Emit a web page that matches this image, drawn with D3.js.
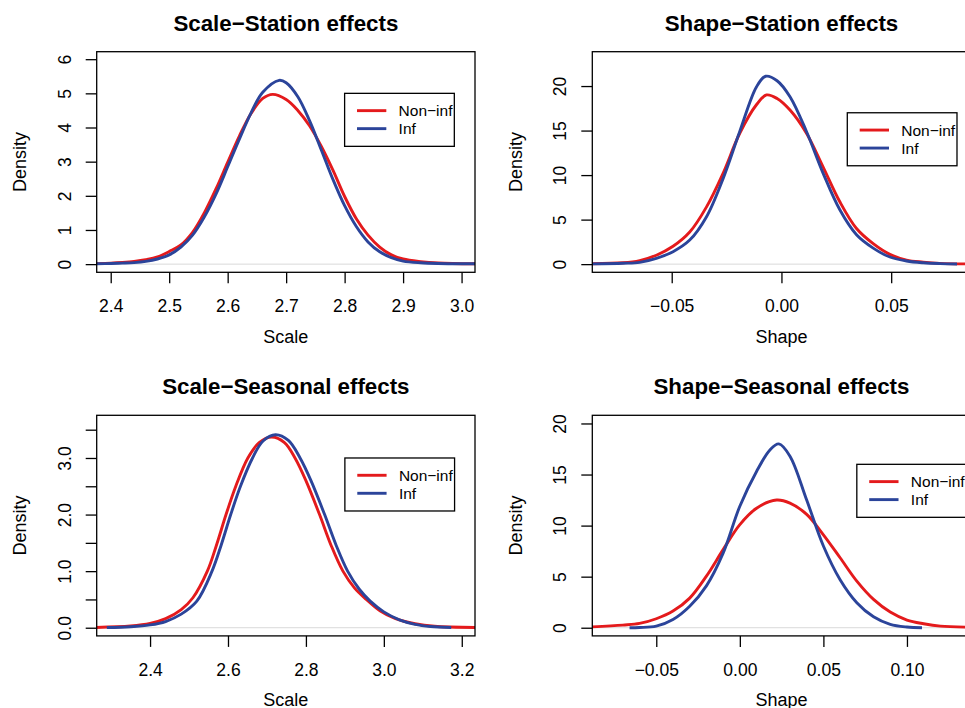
<!DOCTYPE html>
<html>
<head>
<meta charset="utf-8">
<script src="https://cdn.jsdelivr.net/npm/d3@7"></script>
<style>
  body { margin: 0; background: #fff; }
  svg { display: block; font-family: "Liberation Sans", Arial, sans-serif; }
</style>
</head>
<body>
<div class="plot-container"></div>
<script>
// *************************************
// DATA
// *************************************

const titles = ["Scale\u2212Station effects", "Shape\u2212Station effects",
                "Scale\u2212Seasonal effects", "Shape\u2212Seasonal effects"];
const xLabels = ["Scale", "Shape", "Scale", "Shape"];
const seriesNames = ["Non\u2212inf", "Inf"];

// Scale - Station
const scaleStationNonInfX = [2.376, 2.40, 2.42, 2.44, 2.46, 2.48, 2.50, 2.52, 2.54, 2.56, 2.58, 2.60, 2.62, 2.64, 2.66, 2.677, 2.70, 2.72, 2.74, 2.76, 2.78, 2.80, 2.82, 2.84, 2.86, 2.88, 2.90, 2.93, 2.96, 3.023];
const scaleStationNonInfY = [0.015, 0.03, 0.05, 0.08, 0.13, 0.21, 0.37, 0.56, 0.93, 1.5, 2.2, 2.98, 3.75, 4.41, 4.85, 4.97, 4.82, 4.5, 4.05, 3.45, 2.75, 1.98, 1.33, 0.85, 0.5, 0.27, 0.15, 0.075, 0.035, 0.01];
const scaleStationInfX = [2.376, 2.40, 2.42, 2.44, 2.46, 2.48, 2.50, 2.52, 2.54, 2.56, 2.58, 2.60, 2.62, 2.64, 2.66, 2.688, 2.70, 2.72, 2.74, 2.76, 2.78, 2.80, 2.82, 2.84, 2.86, 2.88, 2.90, 2.93, 2.96, 3.023];
const scaleStationInfY = [0.01, 0.02, 0.03, 0.045, 0.08, 0.15, 0.27, 0.5, 0.85, 1.38, 2.05, 2.85, 3.66, 4.43, 5.03, 5.38, 5.31, 4.9, 4.2, 3.35, 2.48, 1.71, 1.1, 0.65, 0.36, 0.19, 0.09, 0.04, 0.02, 0.01];

// Shape - Station
const shapeStationNonInfX = [-0.0874, -0.0722, -0.0646, -0.057, -0.0494, -0.0418, -0.0342, -0.0266, -0.019, -0.0114, -0.0068, -0.002, 0.0039, 0.0114, 0.019, 0.0266, 0.0342, 0.0418, 0.0494, 0.057, 0.0646, 0.0722, 0.0875];
const shapeStationNonInfY = [0.04, 0.15, 0.4, 1.0, 2.0, 3.6, 6.4, 10.2, 14.7, 17.9, 19.0, 18.6, 17.3, 14.7, 10.9, 7.0, 4.0, 2.3, 1.1, 0.45, 0.22, 0.08, 0.02];
const shapeStationInfX = [-0.0874, -0.0722, -0.0646, -0.057, -0.0494, -0.0418, -0.0342, -0.0266, -0.019, -0.0114, -0.0072, -0.002, 0.0039, 0.0114, 0.019, 0.0266, 0.0342, 0.0418, 0.0494, 0.057, 0.0646, 0.0722, 0.080];
const shapeStationInfY = [0.02, 0.1, 0.2, 0.65, 1.4, 2.7, 5.3, 9.6, 14.9, 19.9, 21.1, 20.6, 18.8, 14.9, 10.2, 6.1, 3.3, 1.8, 0.8, 0.35, 0.15, 0.06, 0.02];

// Scale - Seasonal
const scaleSeasonalNonInfX = [2.262, 2.35, 2.40, 2.44, 2.48, 2.51, 2.547, 2.57, 2.595, 2.62, 2.651, 2.68, 2.712, 2.745, 2.772, 2.80, 2.835, 2.865, 2.895, 2.925, 2.955, 2.99, 3.03, 3.08, 3.13, 3.234];
const scaleSeasonalNonInfY = [0.005, 0.03, 0.075, 0.16, 0.32, 0.53, 1.0, 1.45, 2.0, 2.5, 3.0, 3.27, 3.37, 3.27, 3.0, 2.6, 2.0, 1.45, 1.0, 0.7, 0.5, 0.3, 0.16, 0.07, 0.025, 0.004];
const scaleSeasonalInfX = [2.289, 2.35, 2.40, 2.44, 2.48, 2.52, 2.559, 2.582, 2.607, 2.632, 2.663, 2.69, 2.722, 2.755, 2.785, 2.813, 2.848, 2.878, 2.907, 2.937, 2.965, 3.0, 3.04, 3.08, 3.12, 3.173];
const scaleSeasonalInfY = [0.003, 0.018, 0.05, 0.11, 0.24, 0.47, 1.0, 1.45, 2.0, 2.5, 3.0, 3.3, 3.41, 3.31, 3.0, 2.6, 2.0, 1.45, 1.0, 0.68, 0.47, 0.28, 0.14, 0.06, 0.022, 0.005];

// Shape - Seasonal
const shapeSeasonalNonInfX = [-0.09, -0.07, -0.06, -0.05, -0.04, -0.03, -0.02, -0.01, 0.0, 0.01, 0.022, 0.03, 0.04, 0.05, 0.06, 0.07, 0.08, 0.09, 0.10, 0.11, 0.12, 0.14];
const shapeSeasonalNonInfY = [0.07, 0.26, 0.42, 0.88, 1.63, 2.9, 5.05, 7.65, 10.1, 11.7, 12.5, 12.2, 11.1, 9.1, 6.85, 4.56, 2.77, 1.53, 0.75, 0.39, 0.16, 0.05];
const shapeSeasonalInfX = [-0.066, -0.06, -0.05, -0.04, -0.03, -0.02, -0.01, 0.0, 0.01, 0.018, 0.0233, 0.03, 0.04, 0.05, 0.06, 0.07, 0.08, 0.09, 0.10, 0.109];
const shapeSeasonalInfY = [0.0, 0.02, 0.15, 0.8, 2.1, 4.1, 7.3, 11.9, 15.3, 17.4, 18.0, 16.8, 12.5, 8.0, 4.7, 2.45, 1.07, 0.33, 0.07, 0.0];

// axis limits (before R's 4% expansion) and ticks
const xLims = [[2.400, 2.999], [-0.0798, 0.0798], [2.299, 3.198], [-0.0799, 0.1297]];
const yLims = [[0, 5.98], [0, 22.94], [0, 3.61], [0, 20]];
const xTicks = [[2.4, 2.5, 2.6, 2.7, 2.8, 2.9, 3.0], [-0.05, 0, 0.05], [2.4, 2.6, 2.8, 3.0, 3.2], [-0.05, 0, 0.05, 0.10]];
const yTicks = [[0, 1, 2, 3, 4, 5, 6], [0, 5, 10, 15, 20], [0, 0.5, 1, 1.5, 2, 2.5, 3, 3.5], [0, 5, 10, 15, 20]];
const xDigits = [1, 2, 1, 2];
const yLabelled = [[0, 1, 2, 3, 4, 5, 6], [0, 5, 10, 15, 20], [0, 1, 2, 3], [0, 5, 10, 15, 20]];
const yDigits = [0, 0, 1, 0];
// legend top-left corner, in data units
const legendAnchors = [[2.8, 5], [0.03, 17], [2.9, 3], [0.07, 16]];

// *************************************
// LAYOUT
// *************************************

const colors = ["#E41A1C", "#2B449A"];
const cellW = 495.6, cellH = 363.6;
const margin = { left: 96.7, top: 51.7, right: 20.6, bottom: 91.3 };
const plotW = cellW - margin.left - margin.right;
const plotH = cellH - margin.top - margin.bottom;
const tickFont = "17.5px", labelFont = "18px", titleFont = "22.3px", legendFont = "15.5px";

const panels = [
  [[scaleStationNonInfX, scaleStationNonInfY], [scaleStationInfX, scaleStationInfY]],
  [[shapeStationNonInfX, shapeStationNonInfY], [shapeStationInfX, shapeStationInfY]],
  [[scaleSeasonalNonInfX, scaleSeasonalNonInfY], [scaleSeasonalInfX, scaleSeasonalInfY]],
  [[shapeSeasonalNonInfX, shapeSeasonalNonInfY], [shapeSeasonalInfX, shapeSeasonalInfY]]
];

let fmt = (v, digits) => v.toFixed(digits).replace("-", "\u2212");
let expand = (lim) => {
  let pad = (lim[1] - lim[0]) * 0.04;
  return [lim[0] - pad, lim[1] + pad];
};

const svg = d3.select("div.plot-container")
  .append("svg")
  .attr("width", 965)
  .attr("height", 708);

panels.forEach((series, i) => {
  let g = svg.append("g")
    .attr("transform", `translate(${(i % 2) * cellW + margin.left}, ${Math.floor(i / 2) * cellH + margin.top})`);

  let x = d3.scaleLinear().domain(expand(xLims[i])).range([0, plotW]);
  let y = d3.scaleLinear().domain(expand(yLims[i])).range([plotH, 0]);

  g.append("clipPath").attr("id", `clip${i}`)
    .append("rect").attr("width", plotW).attr("height", plotH);

  // zero line like plot.density
  g.append("line")
    .attr("x1", 0).attr("x2", plotW)
    .attr("y1", y(0)).attr("y2", y(0))
    .attr("stroke", "#d9d9d9").attr("stroke-width", 1);

  let line = d3.line()
    .x((d) => x(d[0]))
    .y((d) => y(d[1]))
    .curve(d3.curveCatmullRom.alpha(0.5));

  series.forEach(([xs, ys], k) => {
    g.append("path")
      .datum(xs.map((v, j) => [v, ys[j]]))
      .attr("clip-path", `url(#clip${i})`)
      .attr("d", line)
      .attr("fill", "none")
      .attr("stroke", colors[k])
      .attr("stroke-width", 2.9)
      .attr("stroke-linejoin", "round");
  });

  // box
  g.append("rect")
    .attr("width", plotW).attr("height", plotH)
    .attr("fill", "none").attr("stroke", "#000").attr("stroke-width", 1.3);

  // x axis
  let xAxis = g.append("g")
    .attr("transform", `translate(0, ${plotH})`)
    .call(d3.axisBottom(x).tickValues(xTicks[i]).tickSize(11).tickPadding(0)
      .tickFormat((d) => fmt(d, xDigits[i])));
  xAxis.select(".domain").remove();
  xAxis.selectAll("line").attr("stroke", "#000").attr("stroke-width", 1.3);
  xAxis.selectAll("text")
    .attr("y", 40).attr("dy", 0)
    .attr("fill", "#000")
    .style("font-size", tickFont)
    .style("font-family", "'Liberation Sans', Arial, sans-serif");

  // y axis, labels rotated as in R's las = 0
  let yAxis = g.append("g")
    .call(d3.axisLeft(y).tickValues(yTicks[i]).tickSize(11)
      .tickFormat((d) => yLabelled[i].includes(d) ? fmt(d, yDigits[i]) : ""));
  yAxis.select(".domain").remove();
  yAxis.selectAll("line").attr("stroke", "#000").attr("stroke-width", 1.3);
  yAxis.selectAll("text")
    .attr("transform", "rotate(-90)")
    .attr("x", 0).attr("y", -26).attr("dy", 0)
    .attr("text-anchor", "middle")
    .attr("fill", "#000")
    .style("font-size", tickFont)
    .style("font-family", "'Liberation Sans', Arial, sans-serif");

  // titles
  g.append("text")
    .attr("x", plotW / 2).attr("y", -21)
    .attr("text-anchor", "middle")
    .style("font-size", titleFont).style("font-weight", "bold")
    .text(titles[i]);

  g.append("text")
    .attr("x", plotW / 2).attr("y", plotH + 70.4)
    .attr("text-anchor", "middle")
    .style("font-size", labelFont)
    .text(xLabels[i]);

  g.append("text")
    .attr("transform", `translate(-70.8, ${plotH / 2}) rotate(-90)`)
    .attr("text-anchor", "middle")
    .style("font-size", labelFont)
    .text("Density");

  // legend
  let lg = g.append("g")
    .attr("transform", `translate(${x(legendAnchors[i][0])}, ${y(legendAnchors[i][1])})`);
  lg.append("rect")
    .attr("width", 109.7).attr("height", 53)
    .attr("fill", "#fff").attr("stroke", "#000").attr("stroke-width", 1.3);
  seriesNames.forEach((name, k) => {
    let ly = 17.3 + k * 18;
    lg.append("line")
      .attr("x1", 12.4).attr("x2", 41.7)
      .attr("y1", ly).attr("y2", ly)
      .attr("stroke", colors[k]).attr("stroke-width", 2.9);
    lg.append("text")
      .attr("x", 54).attr("y", ly).attr("dy", "0.36em")
      .style("font-size", legendFont)
      .text(name);
  });
});
</script>
</body>
</html>
